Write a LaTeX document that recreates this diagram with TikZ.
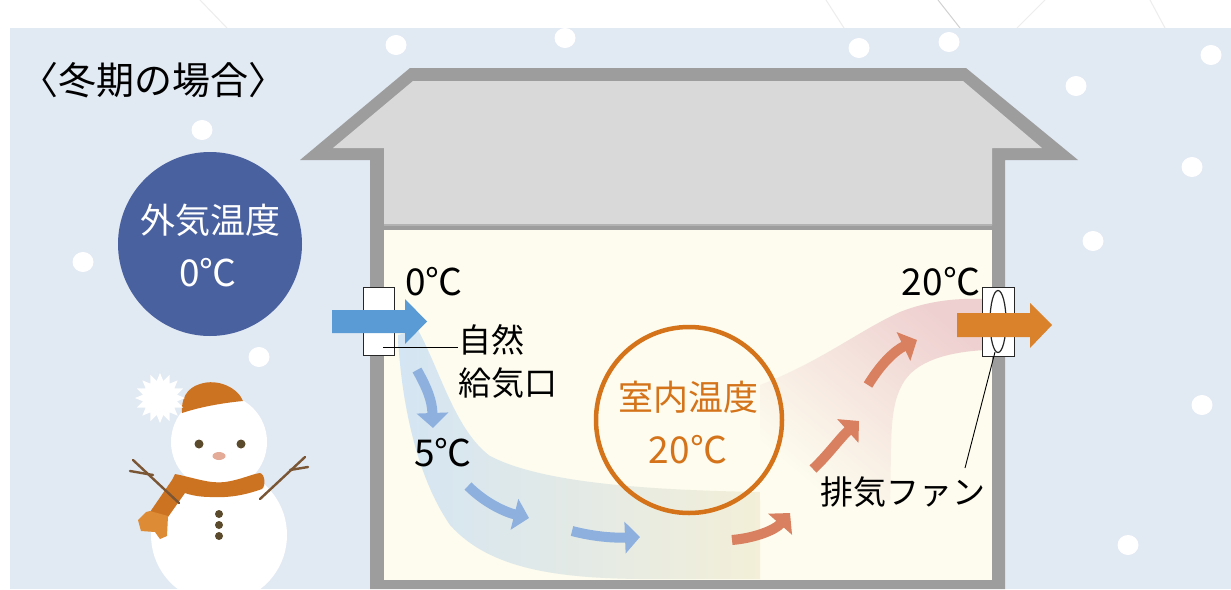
\documentclass[tikz,border=0pt]{standalone}
\usepackage{fontspec}
\setmainfont{Noto Sans CJK JP}
\usetikzlibrary{arrows.meta,shapes.geometric}
\definecolor{sky}{HTML}{E1E9F3}
\definecolor{wall}{HTML}{9D9D9D}
\definecolor{attic}{HTML}{D9D9D9}
\definecolor{room}{HTML}{FDFCEE}
\definecolor{navy}{HTML}{4A61A0}
\definecolor{warm}{HTML}{D4731A}
\definecolor{inblue}{HTML}{5B9BD5}
\definecolor{outorange}{HTML}{D9822B}
\definecolor{flowblue}{HTML}{8EB0DE}
\definecolor{floworange}{HTML}{D8805F}
\definecolor{bandblue}{HTML}{D4E5F3}
\definecolor{bandbeige}{HTML}{F3EFD8}
\definecolor{bandpink}{HTML}{EED0D0}
\definecolor{hat}{HTML}{CC7322}
\definecolor{fringe}{HTML}{DD8B35}
\definecolor{twig}{HTML}{7A5634}
\definecolor{coal}{HTML}{5B4A2B}
\definecolor{nose}{HTML}{E4AB98}
\tikzset{
  snow/.style={fill=white},
  lbl/.style={inner sep=0pt, text=black},
  big/.style={font=\fontsize{37}{40}\selectfont},
  mid/.style={font=\fontsize{35}{38}\selectfont},
  small/.style={font=\fontsize{33}{36}\selectfont},
  leader/.style={draw=black, line width=0.9pt},
  coldflow/.style={draw=flowblue, line width=10pt, -{Triangle[length=15pt,width=31pt]}},
  warmflow/.style={draw=floworange, line width=10pt, -{Triangle[length=15pt,width=31pt]}},
  vent/.style={draw=black!85, fill=white, line width=1pt},
}
\begin{document}
\begin{tikzpicture}[x=1pt,y=-1pt]
\useasboundingbox (0,0) rectangle (1231,589);
\fill[white] (0,0) rectangle (1231,589);
% faint pattern in the top strip
\begin{scope}[draw=black!7, line width=1pt]
  \draw (200,0) -- (227,28);
  \draw (826,0) -- (844,28);
  \draw[black!18] (938,0) -- (960,28);
  \draw (1045,0) -- (1017,28);
  \draw (1150,0) -- (1165,28);
\end{scope}
\fill[sky] (10,28) rectangle (1231,589);

% falling snow
\foreach \p in {(396,45),(565,38),(859,48),(949,42),(1211,55),(1076,86),
  (1192,167),(1093,241),(1202,405),(1128,545),(202,130),(83,262),(259,357)}
  \fill[snow] \p ellipse [x radius=10.5, y radius=10];

% house
\fill[wall] (370,589) -- (370,160) -- (300,160) -- (410,68) -- (966,68)
  -- (1078,160) -- (1005,160) -- (1005,589) -- cycle;
\fill[attic] (384,225) -- (384,148) -- (333,148) -- (413,81) -- (963,81)
  -- (1042,148) -- (992,148) -- (992,225) -- cycle;
\fill[black!30] (384,224) rectangle (992,226);
\fill[room] (384,230) rectangle (992,580);

% cold air stream along the floor
\shade[left color=bandblue, right color=bandbeige]
  (398,335) .. controls (400,385) and (412,470) .. (450,525)
  .. controls (490,570) and (560,578) .. (640,579) -- (760,579) -- (760,492)
  .. controls (640,490) and (540,482) .. (490,456)
  .. controls (455,430) and (440,370) .. (418,330) -- cycle;
% warm air rising to the fan
\shade[top color=bandpink, bottom color=room, shading angle=-40]
  (760,385) .. controls (820,362) and (860,330) .. (900,312)
  .. controls (930,300) and (960,298) .. (985,299) -- (985,350)
  .. controls (950,352) and (915,360) .. (902,385)
  .. controls (888,410) and (892,450) .. (890,500) -- (760,500) -- cycle;

% room temperature badge
\node[circle, draw=warm, line width=4.5pt, minimum size=186pt, inner sep=0pt] (indoor) at (689,420) {};
\node[lbl, mid, text=warm] (indoorname) at (688,397) {室内温度};
\node[lbl, big, text=warm] (indoortemp) at (688,450) {20℃};

% flow arrows
\draw[coldflow] (417,370) .. controls (427,388) and (432,400) .. (433,428);
\draw[coldflow] (468,486) .. controls (485,503) and (505,512) .. (529,518);
\draw[coldflow] (572,531) .. controls (595,537) and (615,538) .. (640,537);
\draw[warmflow] (732,540) .. controls (755,538) and (775,530) .. (790,513);
\draw[warmflow] (813,469) .. controls (828,455) and (840,438) .. (859,421);
\draw[warmflow] (868,385) .. controls (882,362) and (896,350) .. (917,340);

% inlet vent
\node[vent, minimum width=31pt, minimum height=68pt, inner sep=0pt] (inlet) at (378.5,321) {};
\fill[inblue] (332,310) -- (405,310) -- (405,299) -- (427,321.5) -- (405,344)
  -- (405,333) -- (332,333) -- cycle;
\coordinate (inletpin) at (383,347);
\node[lbl, small, anchor=west] (inletname1) at (458,340) {自然};
\node[lbl, small, anchor=west] (inletname2) at (458,383) {給気口};
\draw[leader] (inletpin) -- (inletname1.west |- inletpin);

% exhaust fan
\node[vent, minimum width=32pt, minimum height=69pt, inner sep=0pt] (fan) at (998,321.5) {};
\draw[black!85, line width=1.2pt] (fan.center) ellipse [x radius=8, y radius=31];
\fill[outorange] (957,313) -- (1030,313) -- (1030,303) -- (1052,325) -- (1030,348)
  -- (1030,337) -- (957,337) -- cycle;
\node[lbl, small, anchor=center] (fanname) at (903,492) {排気ファン};
\coordinate (fanpin) at (995,352);
\coordinate (fanend) at (965,468);
\draw[leader] (fanpin) -- (fanend);

% temperature labels
\node[lbl, big] (t0) at (434,282) {0℃};
\node[lbl, big] (t5) at (443,453) {5℃};
\node[lbl, big] (t20) at (941,282) {20℃};

% outdoor badge
\node[circle, fill=navy, minimum size=184pt, inner sep=0pt] (outdoor) at (210,244) {};
\node[lbl, mid, text=white] (outdoorname) at (210,220) {外気温度};
\node[lbl, big, text=white] (outdoortemp) at (208,273) {0℃};

% title
\node[lbl, font=\fontsize{38}{40}\selectfont] (title) at (153,80) {〈冬期の場合〉};

% snowman
\fill[white] (219,535) circle [radius=68];
\fill[white] (219,442) circle [radius=48];
\fill[hat] (182,413) .. controls (181,400) and (186,388) .. (200,384)
  .. controls (218,378) and (238,388) .. (243,401)
  .. controls (222,403) and (200,407) .. (182,413) -- cycle;
\node[star, star points=16, star point ratio=1.45, fill=white, minimum size=50pt, inner sep=0pt] (pompom) at (160,398) {};
\fill[coal] (199,444) circle [radius=4.5];
\fill[coal] (241,444) circle [radius=4.5];
\fill[nose] (219,456) ellipse [x radius=6.5, y radius=4];
\fill[hat] (175,474) .. controls (195,478) and (210,484) .. (225,482)
  .. controls (240,480) and (252,474) .. (260,473)
  .. controls (265,474) and (266,486) .. (262,489)
  .. controls (245,495) and (230,498) .. (210,497)
  .. controls (200,497) and (190,495) .. (185,493)
  -- (168,517) -- (150,512) -- (172,480) -- cycle;
\fill[fringe] (150,511) -- (168,516) -- (167,536) -- (160,539) -- (155,532)
  -- (141,531) -- (138,520) -- (146,512) -- cycle;
\begin{scope}[draw=twig, line width=2.4pt, line cap=round]
  \draw (179,503) -- (133,460);
  \draw (153,475) -- (130,471);
  \draw (260,499) -- (305,457);
  \draw (290,470) -- (308,467);
\end{scope}
\foreach \yy in {514,525,536}
  \fill[coal] (219,\yy) circle [radius=4];
\end{tikzpicture}
\end{document}
